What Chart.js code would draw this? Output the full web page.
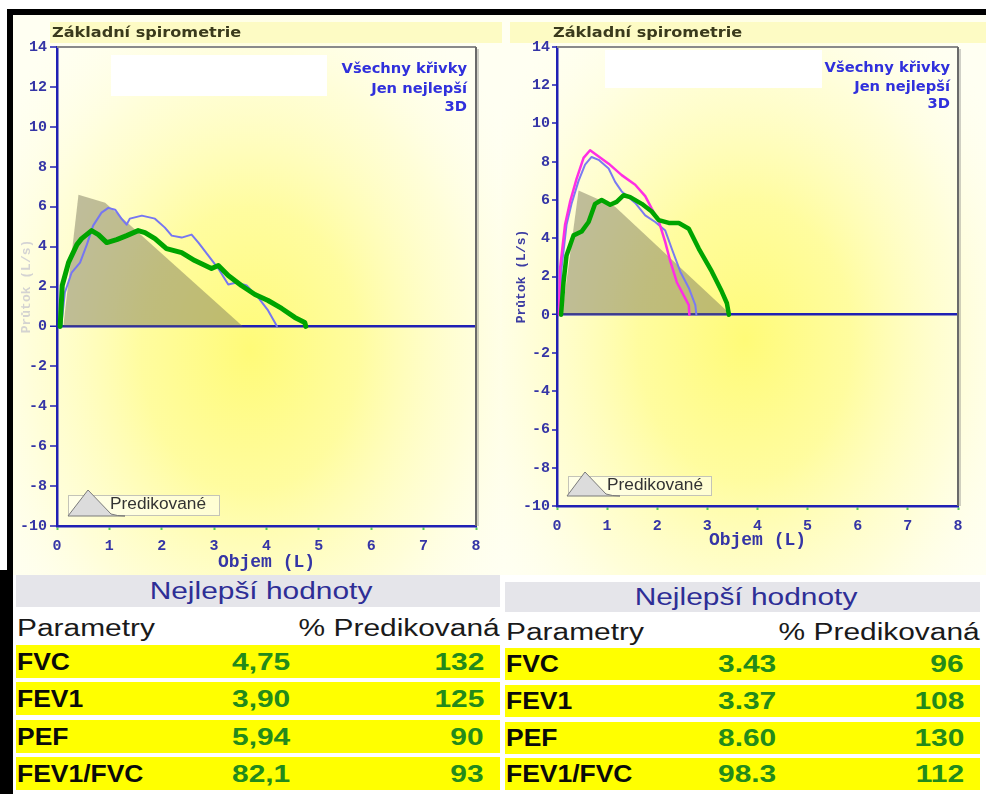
<!DOCTYPE html>
<html>
<head>
<meta charset="utf-8">
<title>Základní spirometrie</title>
<script src="https://cdn.jsdelivr.net/npm/chart.js@4.4.1/dist/chart.umd.min.js"></script>
<style>
  body { margin:0; width:986px; height:794px; background:#fff; position:relative; overflow:hidden;
         font-family:"Liberation Sans", Arial, sans-serif; }
  canvas { position:absolute; }
  #chartLeft { left:13px; top:15px; }
  #chartRight { left:502px; top:15px; }
  .blk { position:absolute; background:#000; }
  .cell { position:absolute; white-space:nowrap; }
  .txt { position:absolute; white-space:nowrap; font-size:23px; line-height:1; }
</style>
</head>
<body>
<div class="blk" style="left:7px;top:9px;width:979px;height:6px"></div>
<div class="blk" style="left:7px;top:9px;width:6px;height:785px"></div>
<div class="blk" style="left:0px;top:570px;width:13px;height:224px"></div>
<canvas id="chartLeft" width="489" height="560"></canvas>
<canvas id="chartRight" width="484" height="560"></canvas>
<div id="tables"></div>
<script>
// ---- axis ranges ----
const VOL_MIN = 0, VOL_MAX = 8, VOL_STEP = 1;
const FLOW_MIN = -10, FLOW_MAX = 14, FLOW_STEP = 2;

// ---- left patient: flow (L/s) vs volume (L) ----
const leftGreenVol  = [0.06,0.10,0.22,0.38,0.47,0.66,0.79,0.95,1.14,1.33,1.55,1.68,1.87,2.09,2.38,2.63,2.95,3.08,3.27,3.52,3.78,4.03,4.29,4.54,4.73,4.75];
const leftGreenFlow = [0,2.05,3.2,4.1,4.4,4.8,4.6,4.2,4.35,4.55,4.8,4.7,4.4,3.9,3.7,3.3,2.9,3.05,2.55,2.05,1.6,1.3,0.9,0.45,0.2,0];
const leftBlueVol   = [0.08,0.15,0.28,0.44,0.57,0.69,0.85,0.98,1.11,1.23,1.33,1.39,1.62,1.87,2.06,2.19,2.38,2.57,2.70,2.89,3.08,3.27,3.43,3.62,3.84,4.03,4.16,4.20];
const leftBlueFlow  = [0,1.7,2.7,3.2,4.1,5.05,5.7,5.94,5.85,5.4,5.1,5.4,5.55,5.4,4.95,4.55,4.45,4.6,4.2,3.55,2.9,2.1,2.2,2.05,1.45,0.8,0.2,0];
const leftPredVol   = [0.12,0.41,0.92,3.55];
const leftPredFlow  = [0,6.6,6.2,0];

// ---- right patient ----
const rightMagentaVol  = [0.04,0.06,0.16,0.26,0.39,0.53,0.66,0.79,1.03,1.29,1.56,1.76,1.89,2.03,2.16,2.26,2.39,2.53,2.63,2.64];
const rightMagentaFlow = [0,2.4,4.7,5.9,7.1,8.2,8.6,8.35,7.9,7.3,6.8,6.2,5.55,4.9,3.8,2.8,1.7,1.0,0.5,0];
const rightBlueVol     = [0.06,0.09,0.19,0.29,0.43,0.56,0.69,0.83,1.03,1.16,1.29,1.56,1.76,1.96,2.16,2.29,2.46,2.63,2.76,2.78];
const rightBlueFlow    = [0,2.4,4.7,5.8,7.0,7.85,8.25,8.1,7.65,6.95,6.45,5.85,5.2,4.85,4.4,3.45,2.25,1.4,0.5,0];
const rightGreenVol    = [0.08,0.13,0.19,0.33,0.49,0.63,0.76,0.89,1.06,1.19,1.33,1.46,1.69,1.89,2.03,2.23,2.43,2.63,2.83,3.09,3.29,3.39,3.43];
const rightGreenFlow   = [0,1.7,3.1,4.15,4.35,4.85,5.8,6.0,5.75,5.9,6.25,6.15,5.8,5.4,4.95,4.8,4.8,4.5,3.45,2.25,1.2,0.6,0];
const rightPredVol     = [0.10,0.43,1.16,3.47];
const rightPredFlow    = [0,6.5,5.65,0];

// ---- best-values tables ----
const paramNames  = ['FVC','FEV1','PEF','FEV1/FVC'];
const leftBest    = ['4,75','3,90','5,94','82,1'];
const leftPct     = ['132','125','90','93'];
const rightBest   = ['3.43','3.37','8.60','98.3'];
const rightPct    = ['96','108','130','112'];

const AXIS = '#2020b4';
const TICK = '#3535a6';
const MONO = '"Liberation Mono", "DejaVu Sans Mono", monospace';

function pts(xs, ys) { return xs.map((x, i) => ({ x, y: ys[i] })); }

function line(data, color, width) {
  return { data, showLine: true, borderColor: color, borderWidth: width, pointRadius: 0,
           fill: false, tension: 0, borderJoinStyle: 'round', borderCapStyle: 'round' };
}
function predicted(data) {
  return { data, showLine: true, borderWidth: 0, borderColor: 'rgba(0,0,0,0)', pointRadius: 0,
           fill: 'origin', backgroundColor: 'rgba(112,110,84,0.45)', tension: 0 };
}

function stext(ctx, s, x, y, font, color, align, sx) {
  ctx.save();
  ctx.font = font; ctx.fillStyle = color; ctx.textBaseline = 'middle'; ctx.textAlign = align;
  ctx.translate(x, y); ctx.scale(sx, 1); ctx.fillText(s, 0, 0);
  ctx.restore();
}

// background glow, title band, frame, notes and legend of each panel
const decor = {
  id: 'decor',
  beforeDraw(chart, args, o) {
    const ctx = chart.ctx, W = chart.width, H = chart.height;
    ctx.save();
    ctx.fillStyle = '#fffff2';
    ctx.fillRect(0, 0, W, H);
    ctx.translate(o.glowX, o.glowY);
    ctx.scale(1, 1.3);
    const g = ctx.createRadialGradient(0, 0, 0, 0, 0, o.glowR);
    g.addColorStop(0, 'rgba(255,251,120,1)');
    g.addColorStop(0.35, 'rgba(255,252,150,0.9)');
    g.addColorStop(0.7, 'rgba(255,253,195,0.55)');
    g.addColorStop(1, 'rgba(255,254,230,0)');
    ctx.fillStyle = g;
    ctx.fillRect(-W, -H, 3 * W, 3 * H);
    ctx.restore();

    // title band
    ctx.fillStyle = '#fdfbc4';
    ctx.fillRect(o.bandX0, 7, o.bandX1 - o.bandX0, 21);
    stext(ctx, 'Základní spirometrie', o.titleX, 18, 'bold 14px "DejaVu Sans"', '#3a3a1c', 'left', 1.15);

    // blank note box
    ctx.fillStyle = '#ffffff';
    ctx.fillRect(o.boxX, o.boxY, o.boxW, o.boxH);
  },
  afterDatasetsDraw(chart) {
    const ctx = chart.ctx, a = chart.chartArea;
    ctx.save();
    ctx.strokeStyle = '#8a8a8a'; ctx.lineWidth = 2;
    ctx.beginPath(); ctx.moveTo(a.left, a.top); ctx.lineTo(a.right, a.top); ctx.stroke();
    ctx.strokeStyle = 'rgba(120,120,120,0.35)'; ctx.lineWidth = 2;
    ctx.beginPath(); ctx.moveTo(a.right + 2, a.top + 2); ctx.lineTo(a.right + 2, a.bottom); ctx.stroke();
    ctx.strokeStyle = '#6a6a6a'; ctx.lineWidth = 2;
    ctx.beginPath(); ctx.moveTo(a.right, a.top); ctx.lineTo(a.right, a.bottom); ctx.stroke();
    ctx.restore();
  },
  afterDraw(chart, args, o) {
    const ctx = chart.ctx;
    // view options
    const nf = 'bold 14px "DejaVu Sans"', nc = '#3030dc';
    stext(ctx, 'Všechny křivky', o.noteX, o.noteY[0], nf, nc, 'right', 1.05);
    stext(ctx, 'Jen nejlepší', o.noteX, o.noteY[1], nf, nc, 'right', 1.05);
    stext(ctx, '3D', o.noteX, o.noteY[2], nf, nc, 'right', 1.05);

    // legend
    const L = o.legend;
    ctx.save();
    ctx.fillStyle = 'rgba(255,255,245,0.55)';
    ctx.fillRect(L.x, L.y, L.w, L.h);
    ctx.strokeStyle = '#c4c4b8'; ctx.lineWidth = 1;
    ctx.strokeRect(L.x + 0.5, L.y + 0.5, L.w, L.h);
    ctx.beginPath();
    ctx.moveTo(L.tx0, L.ty);
    ctx.lineTo(L.tax, L.tay);
    ctx.lineTo(L.tx1 - 14, L.ty - 2);
    ctx.quadraticCurveTo(L.tx1 - 8, L.ty, L.tx1, L.ty);
    ctx.closePath();
    ctx.fillStyle = '#dcdcdc'; ctx.fill();
    ctx.strokeStyle = '#7a7a7a'; ctx.lineWidth = 1; ctx.stroke();
    ctx.restore();
    stext(ctx, 'Predikované', L.textX, L.y + L.h / 2, '16px "Liberation Sans"', '#333333', 'left', 1.08);
  }
};

function makeChart(id, datasets, geo) {
  return new Chart(document.getElementById(id), {
    type: 'scatter',
    data: { datasets },
    options: {
      responsive: false,
      animation: false,
      devicePixelRatio: 1,
      layout: { padding: geo.pad },
      plugins: { legend: { display: false }, tooltip: { enabled: false }, decor: geo.decor },
      scales: {
        x: {
          type: 'linear', min: VOL_MIN, max: VOL_MAX,
          ticks: { stepSize: VOL_STEP, autoSkip: false, maxRotation: 0, color: TICK, padding: 7,
                   font: { family: MONO, size: 15, weight: 'bold' } },
          grid: { drawOnChartArea: false, tickLength: 4, tickColor: '#55cc55', tickWidth: 2 },
          border: { color: AXIS, width: 2.5 },
          title: { display: true, text: 'Objem (L)', color: TICK,
                   font: { family: MONO, size: 18, weight: 'bold' }, padding: { top: 0, bottom: geo.xTitlePad } },
          afterFit: s => { s.height = 49; }
        },
        y: {
          type: 'linear', min: FLOW_MIN, max: FLOW_MAX,
          ticks: { stepSize: FLOW_STEP, autoSkip: false, color: TICK, padding: geo.yTickPad,
                   font: { family: MONO, size: 15, weight: 'bold' } },
          grid: {
            color: c => (c.tick && c.tick.value === 0) ? AXIS : 'rgba(0,0,0,0)',
            lineWidth: c => (c.tick && c.tick.value === 0) ? 2.5 : 0,
            tickColor: AXIS, tickWidth: 1.5, tickLength: geo.yTickLen
          },
          border: { color: AXIS, width: 2.5 },
          title: { display: true, text: 'Průtok (L/s)', color: geo.yTitleColor,
                   font: { family: MONO, size: 13, weight: 'bold' }, padding: { top: geo.yTitlePad, bottom: 0 } },
          afterFit: s => { s.width = geo.yWidth; }
        }
      }
    },
    plugins: [decor]
  });
}

makeChart('chartLeft', [
  line(pts(leftGreenVol, leftGreenFlow), '#00a400', 5),
  line(pts(leftBlueVol, leftBlueFlow), '#7676f2', 2),
  predicted(pts(leftPredVol, leftPredFlow))
], {
  pad: { left: 0, right: 26, top: 32, bottom: 0 },
  yWidth: 44, yTickLen: 7, yTickPad: 3, yTitlePad: 6, yTitleColor: 'rgba(60,60,170,0.22)',
  xTitlePad: 2,
  decor: {
    glowX: 237, glowY: 335, glowR: 310,
    bandX0: 37, bandX1: 489, titleX: 39,
    boxX: 98, boxY: 40, boxW: 216, boxH: 41,
    noteX: 454, noteY: [54, 74, 92],
    legend: { x: 55, y: 480, w: 151, h: 20, tx0: 55, tx1: 112, ty: 501, tax: 75, tay: 475, textX: 97 }
  }
});

makeChart('chartRight', [
  line(pts(rightGreenVol, rightGreenFlow), '#00a400', 4.5),
  line(pts(rightMagentaVol, rightMagentaFlow), '#ff2ee4', 2.5),
  line(pts(rightBlueVol, rightBlueFlow), '#7a7af2', 2),
  predicted(pts(rightPredVol, rightPredFlow))
], {
  pad: { left: 0, right: 28, top: 32, bottom: 20 },
  yWidth: 55, yTickLen: 5, yTickPad: 2, yTitlePad: 12, yTitleColor: '#3c3ca2',
  xTitlePad: 4,
  decor: {
    glowX: 243, glowY: 325, glowR: 305,
    bandX0: 8, bandX1: 484, titleX: 51,
    boxX: 103, boxY: 35, boxW: 217, boxH: 38,
    noteX: 448, noteY: [53, 72, 89],
    legend: { x: 66, y: 461, w: 143, h: 19, tx0: 65, tx1: 118, ty: 481, tax: 83, tay: 457, textX: 105 }
  }
});

// ---- tables ----
function addText(parent, s, x, y, opts) {
  const d = document.createElement('div');
  d.className = 'txt';
  d.textContent = s;
  d.style.color = opts.color;
  d.style.fontWeight = opts.bold ? 'bold' : 'normal';
  d.style.top = (y - 12) + 'px';
  const sx = opts.sx;
  if (opts.align === 'right') {
    d.style.right = (986 - x) + 'px';
    d.style.transformOrigin = 'right center';
  } else if (opts.align === 'center') {
    d.style.left = x + 'px';
    d.style.transform = 'translateX(-50%) scaleX(' + sx + ')';
    d.style.transformOrigin = 'center center';
    parent.appendChild(d);
    return;
  } else {
    d.style.left = x + 'px';
    d.style.transformOrigin = 'left center';
  }
  d.style.transform = 'scaleX(' + sx + ')';
  parent.appendChild(d);
}

function buildTable(g, best, pct) {
  const root = document.getElementById('tables');
  const hdr = document.createElement('div');
  hdr.className = 'cell';
  Object.assign(hdr.style, { left: g.x0 + 'px', top: g.hTop + 'px', width: (g.x1 - g.x0) + 'px',
                             height: g.hH + 'px', background: '#e5e5ea' });
  root.appendChild(hdr);
  addText(root, 'Nejlepší hodnoty', (g.x0 + g.x1) / 2 + 3, g.hTop + g.hH / 2 + 1,
          { color: '#2e2e96', sx: 1.3, align: 'center' });
  addText(root, 'Parametry', g.x0 + 1, g.pY, { color: '#1a1a1a', sx: 1.3, align: 'left' });
  addText(root, '% Predikovaná', g.x1, g.pY, { color: '#1a1a1a', sx: 1.3, align: 'right' });
  paramNames.forEach((name, i) => {
    const top = g.rows[i];
    const r = document.createElement('div');
    r.className = 'cell';
    Object.assign(r.style, { left: g.x0 + 'px', top: top + 'px', width: (g.x1 - g.x0) + 'px',
                             height: g.rH + 'px', background: '#ffff00' });
    root.appendChild(r);
    const cy = top + g.rH / 2 + 1;
    addText(root, name, g.x0 + 1, cy, { color: '#0a0a0a', bold: true, sx: 1.15, align: 'left' });
    addText(root, best[i], g.valX, cy, { color: '#238a1b', bold: true, sx: 1.3, align: 'left' });
    addText(root, pct[i], g.pctR, cy, { color: '#238a1b', bold: true, sx: 1.3, align: 'right' });
  });
}

buildTable({ x0: 16, x1: 500, hTop: 575, hH: 32, pY: 629, rows: [645, 682, 720, 757], rH: 33, valX: 232, pctR: 484 },
           leftBest, leftPct);
buildTable({ x0: 505, x1: 980, hTop: 582, hH: 30, pY: 633, rows: [648, 685, 722, 758], rH: 32, valX: 718, pctR: 964 },
           rightBest, rightPct);
</script>
</body>
</html>
